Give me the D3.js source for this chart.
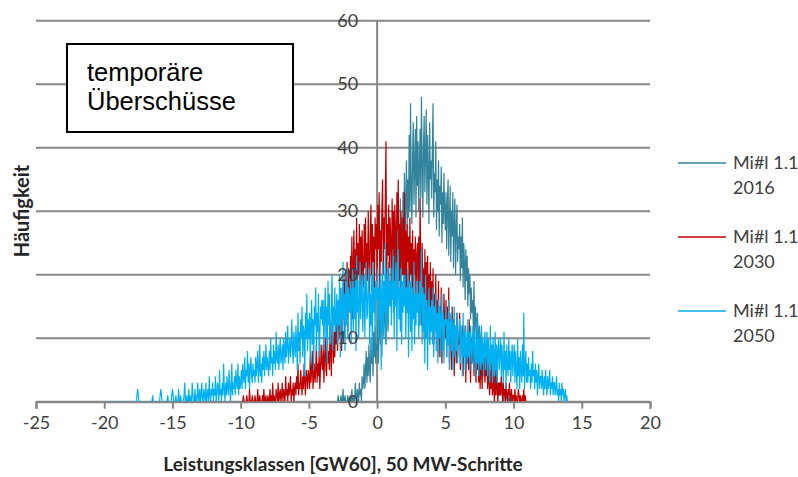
<!DOCTYPE html>
<html>
<head>
<meta charset="utf-8">
<script src="https://cdn.jsdelivr.net/npm/d3@7"></script>
<style>
  html, body { margin: 0; padding: 0; background: #fff; }
  svg { display: block; }
</style>
</head>
<body>
<svg id="chart" width="798" height="477"></svg>
<script>
// ---- data ----
const xTicks = [-25, -20, -15, -10, -5, 0, 5, 10, 15, 20];
const yTicks = [0, 10, 20, 30, 40, 50, 60];
const stepGW = 0.05;
const seriesNames = ["Mi#l 1.1|2016", "Mi#l 1.1|2030", "Mi#l 1.1|2050"];
const start2016 = -3.0;
const values2016 = [
  0,0,0,1,0,0,0,1,0,0,2,0,0,1,0,0,0,1,0,0,
  0,1,0,2,0,1,0,0,3,1,0,2,1,0,3,1,2,0,4,2,
  3,6,2,5,8,3,7,4,9,5,3,10,6,8,4,11,7,12,6,9,
  8,13,6,11,15,9,14,7,17,12,10,18,13,9,20,14,11,22,16,19,
  15,23,18,26,14,21,28,17,25,20,30,19,27,22,32,18,29,24,33,21,
  36,26,31,38,27,35,29,42,30,47,33,28,39,44,31,37,43,29,45,34,
  41,30,37,43,32,48,38,29,40,45,33,39,46,31,42,36,28,44,35,38,
  32,40,47,29,36,33,41,27,35,30,38,26,34,31,37,25,33,28,36,30,
  27,33,24,31,35,23,29,34,22,30,26,33,21,28,32,20,27,31,22,26,
  24,28,19,26,21,29,18,25,22,16,24,19,23,15,21,17,20,13,18,14,
  16,12,19,10,15,13,9,14,11,8,12,10,7,11,6,9,8,5,7,6,
  8,5,7,3,6,4,2,7,5,3,6,2,4,3,1,5,2,3,1,2,
  3,1,2,3,1,0,2,1,0,2,1,0,1,0,0,1,0,0,1,0,
  0
];
const start2030 = -10.0;
const values2030 = [
  0,0,0,0,1,0,0,0,0,1,0,0,0,2,0,0,0,1,0,0,
  0,1,0,0,0,2,0,0,1,0,0,0,1,0,2,0,0,1,0,0,
  1,0,0,2,0,1,0,3,0,1,0,0,2,1,0,3,0,1,2,0,
  1,3,0,2,1,0,4,1,2,0,3,1,2,4,0,2,1,3,0,2,
  3,1,4,2,6,1,3,2,5,3,1,4,2,6,3,1,5,4,2,5,
  4,2,7,3,5,8,2,4,6,3,5,9,3,6,4,8,2,5,9,6,
  5,9,3,7,10,5,4,11,6,8,5,12,7,4,13,9,6,11,7,14,
  9,15,8,12,16,10,17,11,8,18,13,19,10,20,12,17,22,11,21,16,
  14,23,17,26,13,22,27,16,24,19,29,15,25,20,28,17,26,18,27,21,
  18,28,21,29,16,25,19,30,23,17,27,31,18,28,22,26,15,29,24,28,
  19,31,24,33,17,27,22,30,35,20,29,24,32,41,18,28,23,31,21,29,
  25,19,32,24,30,18,31,26,21,33,27,35,19,28,16,30,24,20,29,18,
  33,17,27,14,28,22,26,15,29,20,25,16,27,13,24,20,26,15,23,25,
  17,26,14,32,22,12,25,18,21,10,24,16,22,11,23,15,20,9,22,14,
  19,11,21,9,17,14,20,8,16,12,19,7,15,11,18,6,14,10,17,12,
  10,16,7,15,9,18,6,13,11,5,15,8,13,4,11,12,6,14,7,10,
  9,14,5,11,8,12,4,10,7,12,3,9,6,11,5,13,7,3,10,6,
  7,12,4,9,6,3,10,5,8,3,9,2,7,5,2,8,4,7,3,6,
  4,7,2,6,3,1,5,2,6,1,4,2,0,5,1,4,2,0,3,1,
  3,1,4,2,0,3,1,2,0,3,1,0,2,1,3,0,1,2,0,1,
  1,0,2,0,1,0,0,2,1,0,1,0,0,1,0,2,0,1,0,0,
  0
];
const start2050 = -20.0;
const values2050 = [
  0,0,0,0,0,0,0,0,0,0,0,0,0,0,0,0,0,0,0,0,
  0,0,0,0,0,0,0,0,0,0,0,0,0,0,0,0,0,0,0,0,
  0,0,0,0,0,0,0,0,1,2,1,0,0,0,0,0,0,0,0,0,
  0,0,0,0,0,0,0,0,0,0,0,1,0,0,0,0,0,0,0,0,
  0,0,1,2,1,0,0,0,0,0,0,0,0,1,0,0,0,0,0,1,
  2,1,0,0,0,1,0,0,0,2,0,0,1,0,0,0,0,1,3,0,
  0,1,0,0,2,0,1,0,0,3,1,0,0,2,0,1,0,3,1,0,
  2,0,1,3,0,0,2,1,0,3,0,1,2,0,4,1,0,2,1,3,
  0,2,1,4,0,1,3,2,0,5,1,2,0,3,1,6,2,0,3,1,
  4,2,1,5,3,0,2,6,1,3,2,4,1,5,3,2,6,1,4,2,
  3,5,2,6,4,3,7,2,5,4,8,3,6,2,5,7,4,3,6,4,
  5,3,7,4,6,8,3,5,9,4,6,3,7,5,8,4,6,9,5,7,
  6,4,8,5,10,6,7,4,9,6,8,5,11,7,6,9,5,8,10,6,
  7,9,5,10,8,6,11,7,9,12,6,8,10,7,9,13,8,6,11,9,
  7,12,9,5,14,8,11,6,13,10,15,7,12,11,4,14,10,17,8,13,
  10,14,6,12,16,9,13,5,15,12,18,8,14,11,17,7,10,15,13,16,
  12,16,8,14,18,10,15,6,19,12,17,9,10,16,20,8,15,12,18,11,
  13,17,9,16,12,20,7,18,14,10,22,13,17,8,19,12,21,10,18,16,
  14,19,9,17,21,11,18,13,20,8,23,14,19,10,15,22,13,18,20,11,
  15,20,10,18,22,13,14,19,21,9,17,12,20,7,22,14,18,11,19,17,
  16,21,10,18,13,20,5,17,22,11,19,14,25,9,18,21,12,20,15,19,
  18,12,21,16,23,10,19,15,22,8,20,24,13,18,11,21,9,19,14,20,
  15,20,10,18,14,21,7,17,19,11,20,8,18,13,22,9,17,12,19,14,
  17,10,19,12,16,24,9,18,11,17,6,20,10,16,5,14,18,9,15,11,
  16,9,18,7,15,11,17,8,14,6,16,10,15,7,13,17,8,14,6,13,
  12,15,7,13,9,16,5,12,14,8,13,5,11,15,7,12,8,14,6,11,
  11,13,6,12,9,4,14,7,11,5,12,8,6,13,7,11,5,12,9,6,
  10,12,5,11,8,4,13,6,10,4,11,7,5,12,6,10,4,9,11,5,
  9,11,4,10,7,3,12,6,9,3,10,7,4,11,5,9,3,8,10,5,
  8,10,4,9,6,3,11,5,8,2,9,6,4,10,5,8,3,7,9,4,
  7,9,3,8,5,2,10,4,7,2,8,5,3,9,4,14,2,6,8,3,
  6,3,7,4,5,2,6,3,8,4,5,2,6,3,5,1,4,6,2,4,
  4,2,5,3,1,4,2,5,3,1,4,2,3,5,1,3,2,4,1,3,
  3,1,2,4,1,2,0,3,1,2,0,3,1,2,0,1,2,0,1,0,
  0
];
const boxLines = ["temporäre", "Überschüsse"];
const xTitle = "Leistungsklassen [GW60], 50 MW-Schritte";
const yTitle = "Häufigkeit";

// ---- layout / style ----
const colors = ["#31849B", "#C00000", "#00B0F0"];
const svg = d3.select("#chart");
const x = d3.scaleLinear().domain([-25, 20]).range([36, 650]);
const y = d3.scaleLinear().domain([0, 60]).range([401.7, 20.7]);
const gridColor = "#878787";
const textColor = "#404040";
const tickFont = "Lato, 'Open Sans', sans-serif";

// gridlines
svg.append("g").selectAll("line").data(yTicks).join("line")
  .attr("x1", x(-25)).attr("x2", x(20))
  .attr("y1", d => y(d)).attr("y2", d => y(d))
  .attr("stroke", gridColor).attr("stroke-width", 2);

// vertical axis line at x = 0
svg.append("line")
  .attr("x1", x(0)).attr("x2", x(0))
  .attr("y1", y(0)).attr("y2", y(60))
  .attr("stroke", gridColor).attr("stroke-width", 2);

// series
const series = [
  {start: start2016, values: values2016},
  {start: start2030, values: values2030},
  {start: start2050, values: values2050}
];
const line = d3.line().x(d => x(d[0])).y(d => y(d[1]));
series.forEach((s, i) => {
  const pts = s.values.map((v, k) => [s.start + k * stepGW, v]);
  svg.append("path").datum(pts)
    .attr("d", line)
    .attr("fill", "none")
    .attr("stroke", colors[i])
    .attr("stroke-width", 1.2)
    .attr("stroke-linejoin", "miter");
});

// x axis
const xAxis = d3.axisBottom(x).tickValues(xTicks).tickSize(7).tickPadding(8).tickFormat(d3.format("d"));
const gx = svg.append("g").attr("transform", `translate(0,${y(0)})`).call(xAxis);
gx.select(".domain").attr("stroke", gridColor).attr("stroke-width", 2);
gx.selectAll(".tick line").attr("stroke", gridColor).attr("stroke-width", 2);
gx.selectAll(".tick text")
  .attr("font-family", tickFont).attr("font-size", 18).attr("fill", textColor)
  .text(d => d < 0 ? "-" + Math.abs(d) : String(d));

// y axis labels
const yAxis = d3.axisLeft(y).tickValues(yTicks).tickSize(0).tickPadding(19).tickFormat(d3.format("d"));
const gy = svg.append("g").attr("transform", `translate(${x(0)},0)`).call(yAxis);
gy.select(".domain").remove();
gy.selectAll(".tick text")
  .attr("font-family", tickFont).attr("font-size", 18).attr("fill", textColor);

// axis titles
svg.append("text")
  .attr("x", (x(-25) + x(20)) / 2).attr("y", 471)
  .attr("text-anchor", "middle")
  .attr("font-family", tickFont).attr("font-weight", "bold").attr("font-size", 19)
  .attr("fill", "#262626").text(xTitle);
svg.append("text")
  .attr("transform", "translate(29,211) rotate(-90)")
  .attr("text-anchor", "middle")
  .attr("font-family", tickFont).attr("font-weight", "bold").attr("font-size", 20)
  .attr("fill", "#262626").text(yTitle);

// annotation box
svg.append("rect")
  .attr("x", 67).attr("y", 44).attr("width", 226).attr("height", 88)
  .attr("fill", "#fff").attr("stroke", "#000").attr("stroke-width", 2);
svg.append("g").selectAll("text").data(boxLines).join("text")
  .attr("x", 87).attr("y", (d, i) => 81 + i * 29)
  .attr("font-family", "'Liberation Sans', Arial, sans-serif").attr("font-size", 25.5)
  .attr("fill", "#000").text(d => d);

// legend
const legY = [163, 237, 311];
const leg = svg.append("g");
seriesNames.forEach((name, i) => {
  const parts = name.split("|");
  leg.append("line")
    .attr("x1", 678).attr("x2", 726)
    .attr("y1", legY[i]).attr("y2", legY[i])
    .attr("stroke", colors[i]).attr("stroke-width", 1.5);
  parts.forEach((p, j) => {
    leg.append("text")
      .attr("x", 733).attr("y", legY[i] + j * 25)
      .attr("dy", "0.35em")
      .attr("font-family", tickFont).attr("font-size", 18)
      .attr("fill", textColor).text(p);
  });
});
</script>
</body>
</html>
